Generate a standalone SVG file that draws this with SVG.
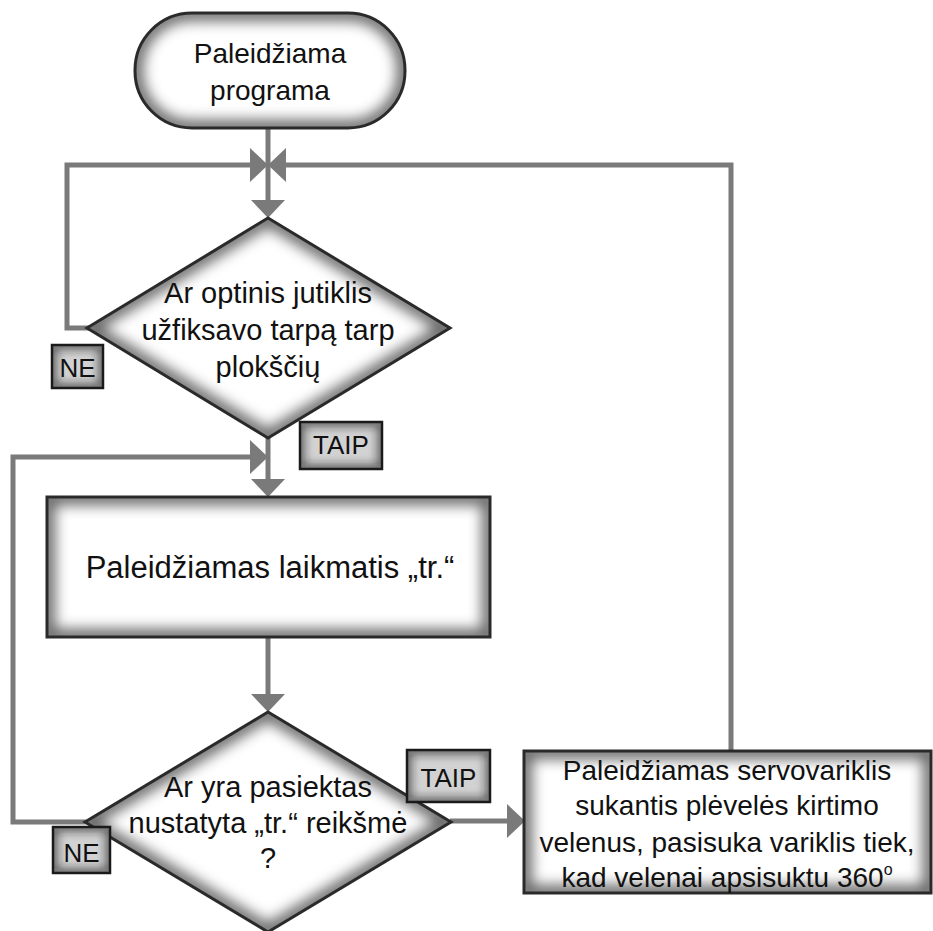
<svg xmlns="http://www.w3.org/2000/svg" width="933" height="931" viewBox="0 0 933 931">
<defs>
<filter id="blur" x="-20%" y="-20%" width="140%" height="140%"><feGaussianBlur stdDeviation="7"/></filter>
<filter id="blurS" x="-30%" y="-30%" width="160%" height="160%"><feGaussianBlur stdDeviation="4"/></filter>
<clipPath id="cpStart"><rect x="135" y="13" width="270" height="115" rx="57"/></clipPath>
<clipPath id="cpD1"><polygon points="268,218 450,328 268,438 87,328"/></clipPath>
<clipPath id="cpTimer"><rect x="47" y="497" width="443" height="140"/></clipPath>
<clipPath id="cpD2"><polygon points="268,712 451,822 268,932 85,822"/></clipPath>
<clipPath id="cpServo"><rect x="524" y="751" width="407" height="142"/></clipPath>
<clipPath id="cpNe1"><rect x="52" y="345" width="51" height="43"/></clipPath>
<clipPath id="cpTaip1"><rect x="300" y="422" width="82" height="47"/></clipPath>
<clipPath id="cpTaip2"><rect x="407" y="750" width="83" height="52"/></clipPath>
<clipPath id="cpNe2"><rect x="53" y="827" width="57" height="46"/></clipPath>
<marker id="arr" markerUnits="userSpaceOnUse" markerWidth="18" markerHeight="34" refX="15" refY="17" orient="auto">
<path d="M0,0 L18,17 L0,34 Z" fill="#7a7a7a"/>
</marker>
<style>
.con{fill:none;stroke:#7a7a7a;stroke-width:5}
.fill{fill:#fff}
.glow{fill:none;stroke:#000;stroke-width:16;stroke-opacity:.6;filter:url(#blur)}
.edge{fill:none;stroke:#2a2a2a;stroke-width:3}
.lfill{fill:#d2d2d2}
.lglow{fill:none;stroke:#222;stroke-width:10;stroke-opacity:.6;filter:url(#blurS)}
.ledge{fill:none;stroke:#1a1a1a;stroke-width:2.5}
text{font-family:"Liberation Sans",Arial,sans-serif;fill:#111;text-anchor:middle}
.t28{font-size:28px}
.t29{font-size:29px}
.t31{font-size:31px}
.lab{font-size:26px}
</style>
</defs>
<rect width="933" height="931" fill="#fff"/>
<g id="connectors">
<path class="con" d="M268,128 V215" marker-end="url(#arr)"/>
<path class="con" d="M89,328 H67 V165 H265" marker-end="url(#arr)"/>
<path class="con" d="M731,752 V165 H271" marker-end="url(#arr)"/>
<path class="con" d="M268,438 V494" marker-end="url(#arr)"/>
<path class="con" d="M86,822 H13 V457 H265" marker-end="url(#arr)"/>
<path class="con" d="M268,637 V709" marker-end="url(#arr)"/>
<path class="con" d="M450,821 H522" marker-end="url(#arr)"/>
</g>
<g id="start">
<rect class="fill" x="135" y="13" width="270" height="115" rx="57"/>
<g clip-path="url(#cpStart)"><rect class="glow" x="135" y="13" width="270" height="115" rx="57"/></g>
<rect class="edge" x="135" y="13" width="270" height="115" rx="57"/>
<text class="t28" x="270" y="63">Paleidžiama</text>
<text class="t28" x="270" y="100">programa</text>
</g>
<g id="decision1">
<polygon class="fill" points="268,218 450,328 268,438 87,328"/>
<g clip-path="url(#cpD1)"><polygon class="glow" points="268,218 450,328 268,438 87,328"/></g>
<polygon class="edge" points="268,218 450,328 268,438 87,328"/>
<text class="t29" x="268" y="303">Ar optinis jutiklis</text>
<text class="t29" x="268" y="340">užfiksavo tarpą tarp</text>
<text class="t29" x="268" y="377">plokščių</text>
</g>
<g id="timer">
<rect class="fill" x="47" y="497" width="443" height="140"/>
<g clip-path="url(#cpTimer)"><rect class="glow" x="47" y="497" width="443" height="140"/></g>
<rect class="edge" x="47" y="497" width="443" height="140"/>
<text class="t31" x="270" y="578">Paleidžiamas laikmatis „tr.“</text>
</g>
<g id="decision2">
<polygon class="fill" points="268,712 451,822 268,932 85,822"/>
<g clip-path="url(#cpD2)"><polygon class="glow" points="268,712 451,822 268,932 85,822"/></g>
<polygon class="edge" points="268,712 451,822 268,932 85,822"/>
<text class="t29" x="268" y="797">Ar yra pasiektas</text>
<text class="t29" x="268" y="833">nustatyta „tr.“ reikšmė</text>
<text class="t29" x="268" y="868">?</text>
</g>
<g id="servo">
<rect class="fill" x="524" y="751" width="407" height="142"/>
<g clip-path="url(#cpServo)"><rect class="glow" x="524" y="751" width="407" height="142"/></g>
<rect class="edge" x="524" y="751" width="407" height="142"/>
<text class="t28" x="727" y="780">Paleidžiamas servovariklis</text>
<text class="t28" x="727" y="815">sukantis plėvelės kirtimo</text>
<text class="t28" x="727" y="852">velenus, pasisuka variklis tiek,</text>
<text class="t28" x="727" y="887">kad velenai apsisuktu 360<tspan font-size="16" dy="-12">o</tspan></text>
</g>
<g id="ne1">
<rect class="lfill" x="52" y="345" width="51" height="43"/>
<g clip-path="url(#cpNe1)"><rect class="lglow" x="52" y="345" width="51" height="43"/></g>
<rect class="ledge" x="52" y="345" width="51" height="43"/>
<text class="lab" x="77.5" y="377">NE</text>
</g>
<g id="taip1">
<rect class="lfill" x="300" y="422" width="82" height="47"/>
<g clip-path="url(#cpTaip1)"><rect class="lglow" x="300" y="422" width="82" height="47"/></g>
<rect class="ledge" x="300" y="422" width="82" height="47"/>
<text class="lab" x="341" y="454">TAIP</text>
</g>
<g id="taip2">
<rect class="lfill" x="407" y="750" width="83" height="52"/>
<g clip-path="url(#cpTaip2)"><rect class="lglow" x="407" y="750" width="83" height="52"/></g>
<rect class="ledge" x="407" y="750" width="83" height="52"/>
<text class="lab" x="448.5" y="787">TAIP</text>
</g>
<g id="ne2">
<rect class="lfill" x="53" y="827" width="57" height="46"/>
<g clip-path="url(#cpNe2)"><rect class="lglow" x="53" y="827" width="57" height="46"/></g>
<rect class="ledge" x="53" y="827" width="57" height="46"/>
<text class="lab" x="81.5" y="862">NE</text>
</g>
</svg>
